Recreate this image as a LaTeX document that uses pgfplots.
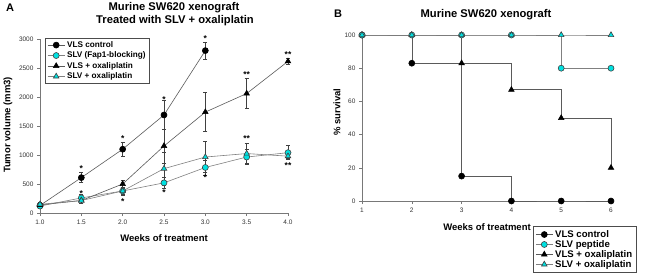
\documentclass[border=0pt]{standalone}
\usepackage{pgfplots}
\pgfplotsset{compat=1.18}
\usepackage{fontspec}
\setmainfont{Liberation Sans}
\definecolor{mycyan}{RGB}{0,225,225}
\definecolor{axgray}{RGB}{120,120,120}
\definecolor{lngray}{RGB}{90,90,90}
\pgfplotsset{
  common/.style={
    scale only axis,
    axis x line*=bottom, axis y line*=left,
    axis line style={axgray, line width=0.8pt, -},
    tick style={axgray, line width=0.6pt},
    tick align=outside, major tick length=3pt,
    tick label style={font=\fontsize{6.5}{7.5}\selectfont, text=black!80},
    /pgf/number format/assume math mode=true,
    /pgf/number format/set thousands separator={},
    clip=false,
  },
  bcirc/.style={lngray, line width=0.6pt, mark=*, mark size=3pt, mark options={fill=black, draw=black, solid}},
  ccirc/.style={gray, line width=0.6pt, mark=*, mark size=3pt, mark options={fill=mycyan, draw=black!75, solid}},
  btri/.style={lngray, line width=0.6pt, mark=triangle*, mark size=3.2pt, mark options={fill=black, draw=black, solid}},
  ctri/.style={gray, line width=0.6pt, mark=triangle*, mark size=3.2pt, mark options={fill=mycyan, draw=black!75, solid}},
  eb/.style={error bars/.cd, y dir=both, y explicit,
    error bar style={black!75, line width=0.5pt},
    error mark options={rotate=90, mark size=2pt, black!75, line width=0.5pt}},
  leg/.style={legend style={draw=black!70, line width=0.8pt,
    font=\fontsize{8.2}{9}\selectfont\bfseries, inner xsep=2pt, inner ysep=1pt,
    row sep=-1pt, cells={anchor=west}}, legend cell align=left},
}
\pgfplotstableread{
x y e
1.0 130 30
1.5 610 85
2.0 1100 120
2.5 1690 250
3.0 2800 150
}\vlsctrl
\pgfplotstableread{
x y e
1.0 120 40
1.5 260 60
2.0 380 60
2.5 520 100
3.0 785 130
3.5 965 130
4.0 1040 120
}\slvfap
\pgfplotstableread{
x y e
1.0 140 30
1.5 215 40
2.0 500 70
2.5 1155 290
3.0 1740 335
3.5 2060 260
4.0 2615 50
}\vlsoxa
\pgfplotstableread{
x y e
1.0 150 40
1.5 215 40
2.0 380 70
2.5 765 280
3.0 965 270
3.5 1025 170
4.0 980 40
}\slvoxa
\begin{document}
\begin{tikzpicture}
\path[use as bounding box] (0,0) rectangle (650pt,277pt);
% ---------- Panel A ----------
\begin{axis}[common, leg,
  at={(40pt,64pt)}, anchor=south west,
  width=248pt, height=174pt,
  xmin=1, xmax=4, ymin=0, ymax=3000,
  xtick={1,1.5,...,4}, ytick={0,500,...,3000},
  xticklabel style={/pgf/number format/.cd, fixed, fixed zerofill, precision=1},
  legend style={at={(0.02,1.006)}, anchor=north west},
]
\addplot[bcirc, eb] table[x=x, y=y, y error=e] {\vlsctrl};
\addlegendentry{VLS control}
\addplot[ccirc, eb] table[x=x, y=y, y error=e] {\slvfap};
\addlegendentry{SLV (Fap1-blocking)}
\addplot[btri, eb] table[x=x, y=y, y error=e] {\vlsoxa};
\addlegendentry{VLS + oxaliplatin}
\addplot[ctri, eb] table[x=x, y=y, y error=e] {\slvoxa};
\addlegendentry{SLV + oxaliplatin}
\begin{scope}[every node/.style={anchor=base, font=\fontsize{8.5}{8.5}\selectfont\bfseries, inner sep=0pt}]
\node at (axis cs:1.5,710) {*};
\node at (axis cs:2.0,1230) {*};
\node at (axis cs:2.5,1910) {*};
\node at (axis cs:3.0,2960) {*};
\node at (axis cs:3.5,2330) {**};
\node at (axis cs:4.0,2685) {**};
\node at (axis cs:1.5,287) {*};
\node at (axis cs:2.0,144) {*};
\node at (axis cs:2.5,305) {*};
\node at (axis cs:3.0,560) {*};
\node at (axis cs:3.5,1230) {**};
\node at (axis cs:4.0,765) {**};
\end{scope}
\end{axis}
\node[font=\fontsize{11.2}{13}\selectfont\bfseries] at (174pt,269pt) {Murine SW620 xenograft};
\node[font=\fontsize{11.2}{13}\selectfont\bfseries] at (175pt,256pt) {Treated with SLV + oxaliplatin};
\node[font=\fontsize{11}{13}\selectfont\bfseries] at (10pt,269pt) {A};
\node[font=\fontsize{9.5}{11}\selectfont\bfseries, rotate=90] at (8pt,152pt) {Tumor volume (mm3)};
\node[font=\fontsize{9.5}{11}\selectfont\bfseries] at (164pt,39pt) {Weeks of treatment};
% ---------- Panel B ----------
\begin{axis}[common, leg,
  at={(362pt,76pt)}, anchor=south west,
  width=249pt, height=166pt,
  xmin=1, xmax=6, ymin=0, ymax=100,
  xtick={1,...,6}, ytick={0,20,...,100},
  legend style={at={(0.687,-0.15)}, anchor=north west,
    font=\fontsize{9.6}{10}\selectfont\bfseries, row sep=-2.5pt, inner ysep=2pt},
]
\addlegendimage{bcirc}\addlegendentry{VLS control}
\addlegendimage{ccirc}\addlegendentry{SLV peptide}
\addlegendimage{btri}\addlegendentry{VLS + oxaliplatin}
\addlegendimage{ctri}\addlegendentry{SLV + oxaliplatin}
\addplot[bcirc, const plot mark left, forget plot] coordinates {(1,100) (2,83) (3,15) (4,0) (5,0) (6,0)};
\addplot[btri, const plot mark left, forget plot] coordinates {(1,100) (2,100) (3,83) (4,67) (5,50) (6,20)};
\addplot[ccirc, const plot mark left, forget plot] coordinates {(1,100) (2,100) (3,100) (4,100) (5,80) (6,80)};
\addplot[ctri, const plot mark left, forget plot] coordinates {(1,100) (2,100) (3,100) (4,100) (5,100) (6,100)};
\end{axis}
\node[font=\fontsize{11.2}{13}\selectfont\bfseries] at (486pt,262pt) {Murine SW620 xenograft};
\node[font=\fontsize{11}{13}\selectfont\bfseries] at (338pt,263pt) {B};
\node[font=\fontsize{9.5}{11}\selectfont\bfseries, rotate=90] at (337pt,165pt) {\% survival};
\node[font=\fontsize{9.5}{11}\selectfont\bfseries] at (487pt,50pt) {Weeks of treatment};
\end{tikzpicture}
\end{document}
